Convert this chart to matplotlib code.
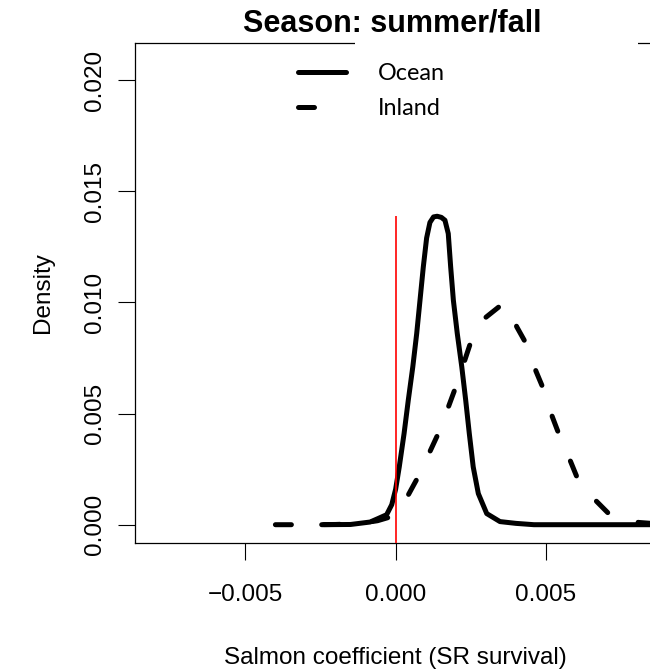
import numpy as np
import matplotlib
matplotlib.use("Agg")
import matplotlib.pyplot as plt
from matplotlib.patches import Rectangle

# density curves
ocean_x = [-0.00246, -0.0015, -0.00085, -0.00058, -0.0003, -0.00013, 0.0, 0.00012,
           0.00028, 0.00042, 0.00057, 0.0007, 0.00081, 0.00092, 0.00103, 0.00114,
           0.00126, 0.00138, 0.00152, 0.00164, 0.00175, 0.00183, 0.00192, 0.00205,
           0.0022, 0.00233, 0.00245, 0.00258, 0.00275, 0.00303, 0.00347, 0.004,
           0.0046, 0.0087]
ocean_y = [0.0, 0.00001, 0.00012, 0.00028, 0.00045, 0.0009, 0.0016, 0.0026,
           0.0041, 0.0056, 0.0071, 0.0086, 0.0101, 0.0116, 0.0129, 0.0136,
           0.01385, 0.01388, 0.01383, 0.0137, 0.0131, 0.0116, 0.0101, 0.0086,
           0.0071, 0.0056, 0.0041, 0.0026, 0.0014, 0.0005, 0.00014, 0.00006,
           0.0, 0.0]

inland_x = [-0.0040, -0.003, -0.002, -0.0012, -0.0006, -0.0002, 0.0, 0.00042,
            0.00075, 0.00114, 0.00142, 0.0017, 0.002, 0.00225, 0.00247, 0.00297,
            0.00347, 0.0037, 0.00403, 0.00436, 0.00467, 0.00493, 0.00521, 0.00544,
            0.00582, 0.00607, 0.00666, 0.00713, 0.0076, 0.0081, 0.0087]
inland_y = [0.0, 0.0, 0.00001, 0.00005, 0.00018, 0.00034, 0.00046, 0.00134,
            0.00216, 0.00329, 0.00411, 0.0051, 0.0062, 0.0072, 0.0081, 0.0093,
            0.00984, 0.0099, 0.0089, 0.0081, 0.0069, 0.00606, 0.00486, 0.00404,
            0.00284, 0.00201, 0.00108, 0.00044, 0.0002, 0.0001, 0.00004]

ref_x = 0.0
ref_top = 0.0139

xticks = [-0.005, 0.0, 0.005]
yticks = [0.0, 0.005, 0.010, 0.015, 0.020]

plt.rcParams["font.family"] = ["Liberation Sans", "DejaVu Sans"]

fig = plt.figure(figsize=(6.5, 6.71), dpi=100)
ax = fig.add_axes([135.3 / 650, 128.3 / 671, 520.7 / 650, 500 / 671])

ax.plot(ocean_x, ocean_y, color="black", lw=3.6, solid_capstyle="round",
        solid_joinstyle="round", label="Ocean")
ax.plot(inland_x, inland_y, color="black", lw=3.6, dashes=(3.2, 6.5),
        dash_capstyle="round", label="Inland")

ax.set_xlim(-0.00866, 0.00866)
ax.set_ylim(-0.00081, 0.02169)
ax.vlines(ref_x, -0.00081, ref_top, color="red", lw=1.2, zorder=3)

ax.set_xticks(xticks)
ax.set_xticklabels(["\u22120.005", "0.000", "0.005"])
ax.set_yticks(yticks)
ax.set_yticklabels(["%.3f" % v for v in yticks])
ax.tick_params(axis="both", length=12, width=0.8, labelsize=17.5, direction="out")
ax.tick_params(axis="x", pad=18)
ax.tick_params(axis="y", pad=9, labelrotation=90)
for lab in ax.get_yticklabels():
    lab.set_va("center")

for s in ax.spines.values():
    s.set_linewidth(0.9)

ax.set_xlabel("Salmon coefficient (SR survival)", fontsize=17.5, labelpad=29)
ax.set_ylabel("Density", fontsize=17.5, labelpad=22)
fig.text(392.7 / 650, 1 - 24 / 671, "Season: summer/fall", fontsize=22,
         fontweight="bold", ha="center", va="center")

# white patch where the legend was pasted over the top frame
fig.add_artist(Rectangle((355 / 650, 1 - 50 / 671), 283 / 650, 14 / 671,
                         transform=fig.transFigure, facecolor="white",
                         edgecolor="none", zorder=1))

handles, labels = ax.get_legend_handles_labels()
fig.legend(handles, labels, loc="upper left",
           bbox_to_anchor=(298 / 650, 1 - 63.5 / 671), frameon=False,
           prop={"family": "Lato", "size": 16.8}, handlelength=2.06,
           handletextpad=1.37, labelspacing=0.58, borderpad=0, borderaxespad=0)

fig.savefig("out.png", dpi=100)
